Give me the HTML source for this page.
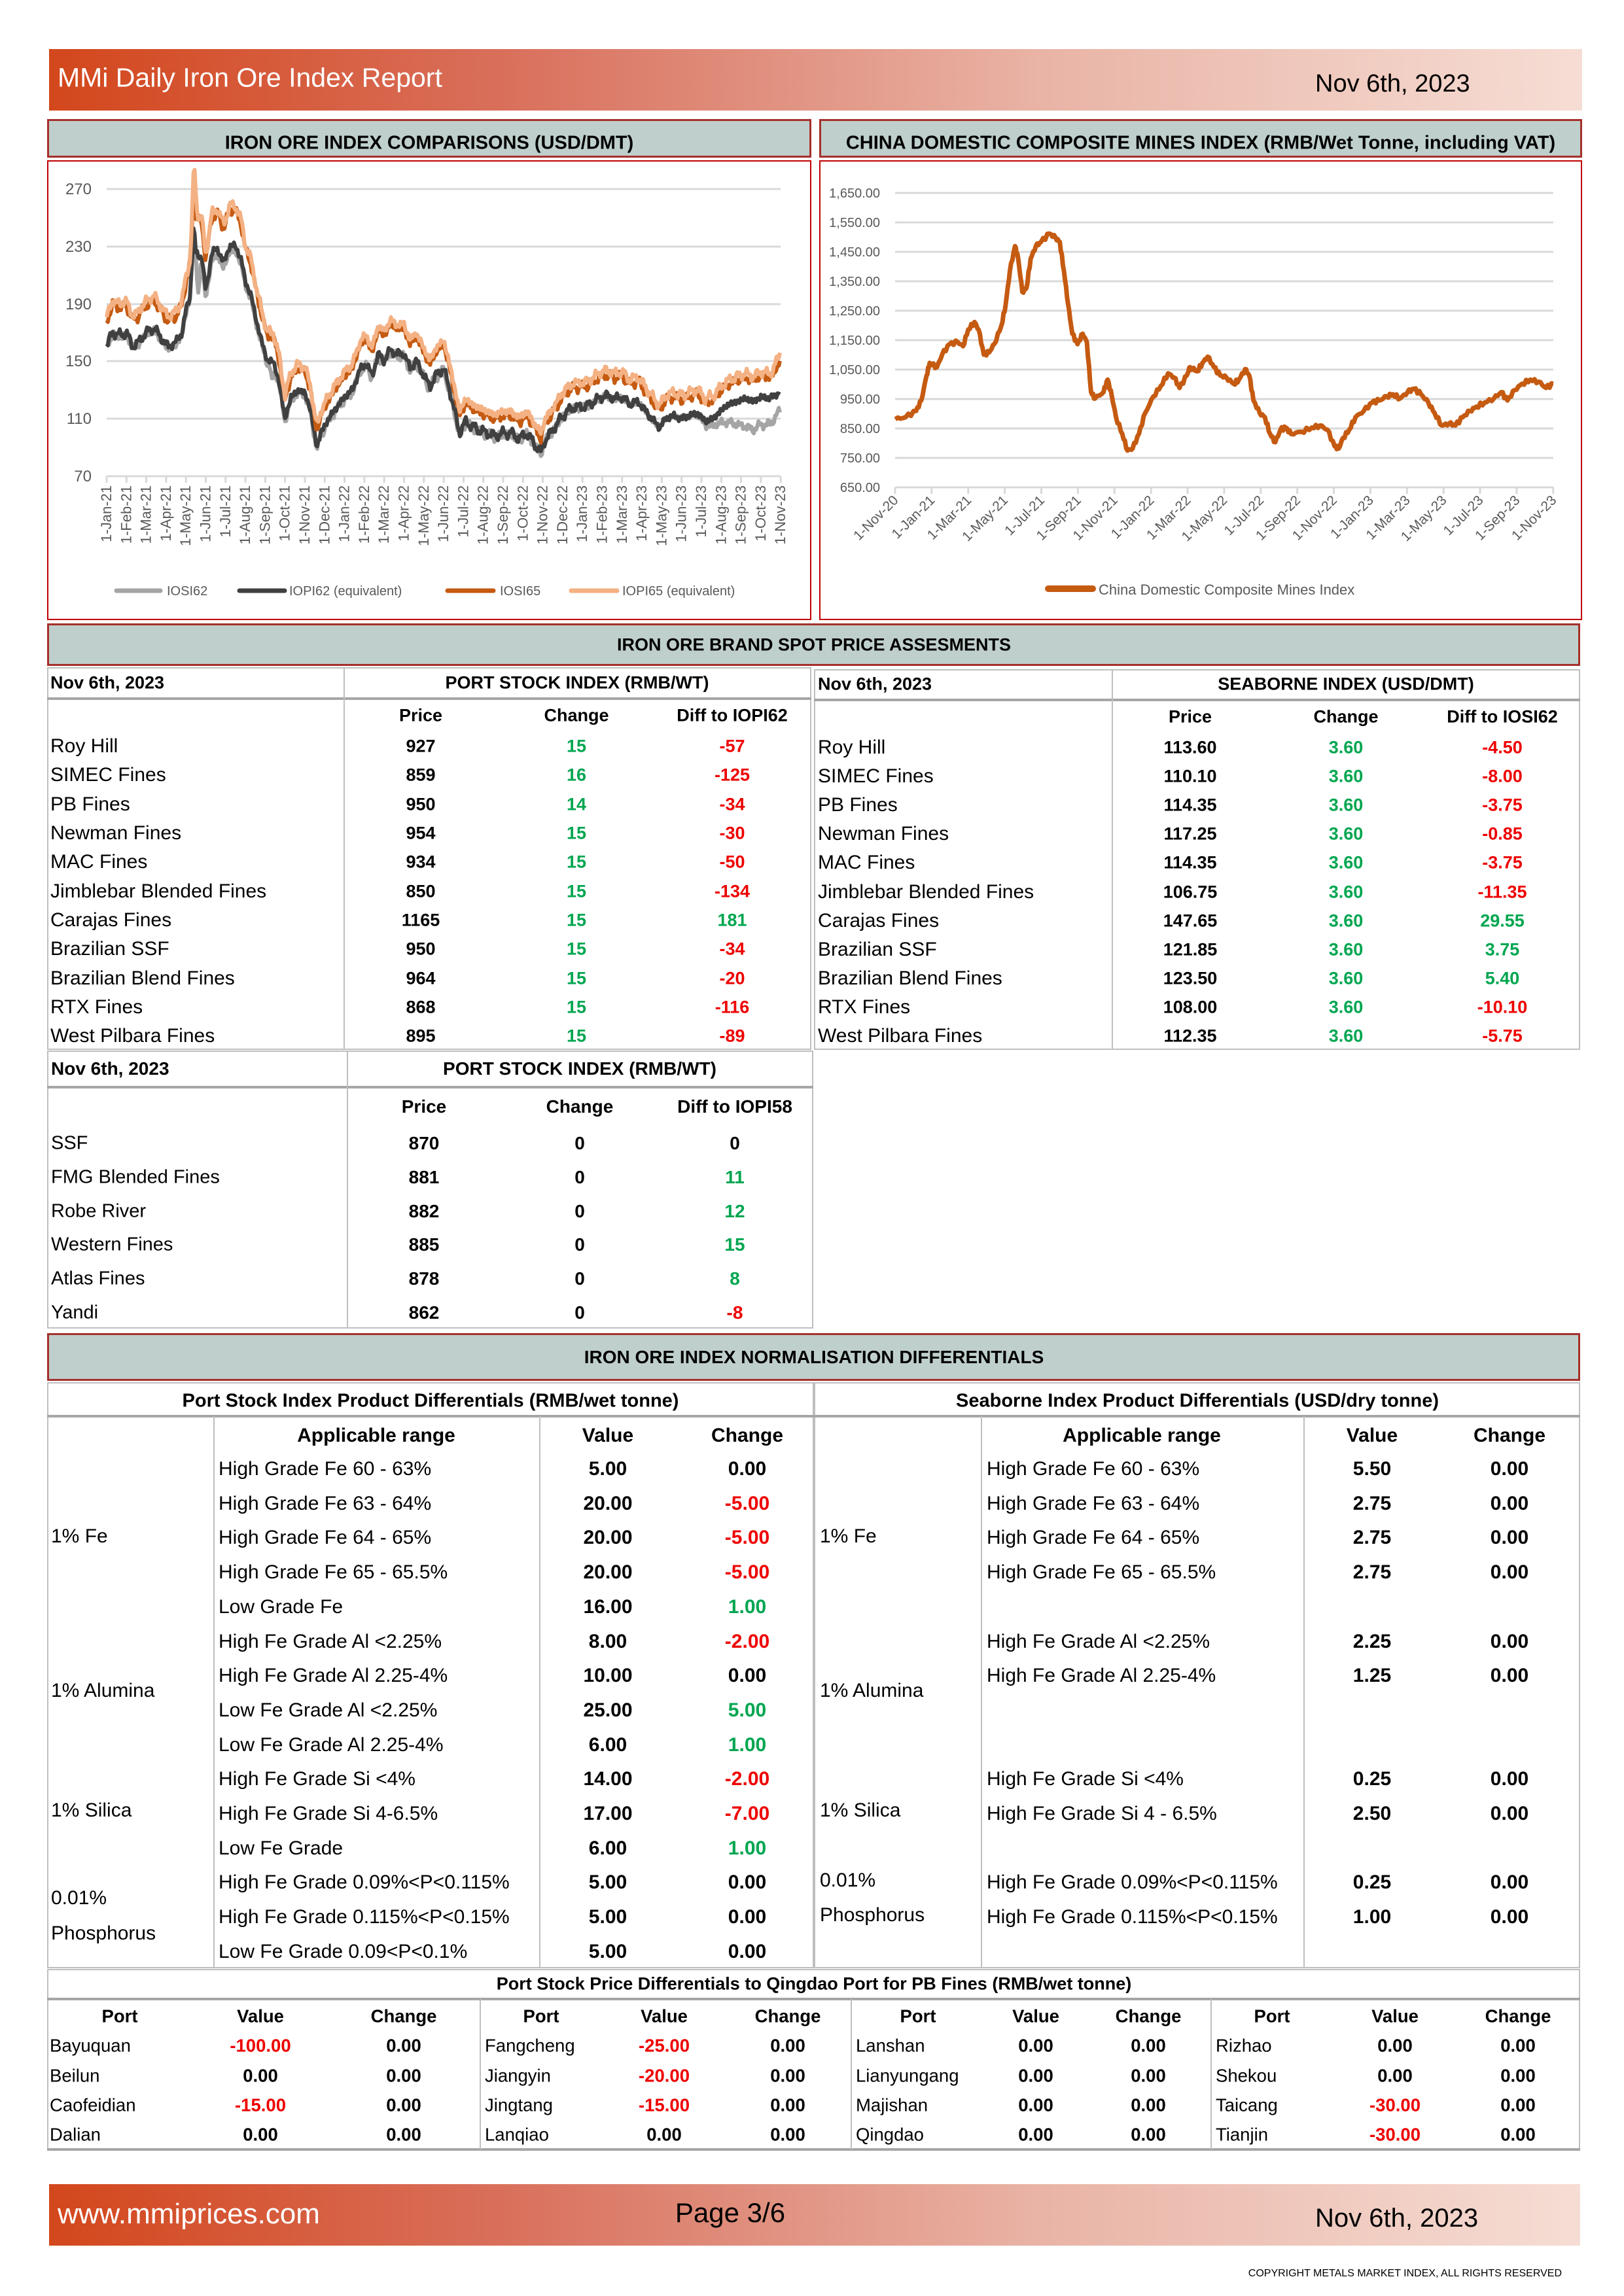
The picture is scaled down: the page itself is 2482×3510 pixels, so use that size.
<!DOCTYPE html>
<html><head><meta charset="utf-8">
<style>
*{margin:0;padding:0;box-sizing:border-box}
body{width:2482px;height:3510px;position:relative;background:#fff;font-family:"Liberation Sans",Arial,sans-serif;color:#000;overflow:hidden}
.a{position:absolute}
.t{position:absolute;white-space:nowrap;transform:translateY(-50%);line-height:1}
.c{position:absolute;white-space:nowrap;transform:translate(-50%,-50%);line-height:1}
.b{font-weight:bold}
.g{color:#00a650}.r{color:#ee0000}
.bx{position:absolute;border:2px solid #bfbfbf}
.hl{position:absolute;height:4px;background:#a6a6a6}
.vl{position:absolute;width:2px;background:#bfbfbf}
.hd{position:absolute;background:#bfcfcc;border:3px solid #a5302b}
.tb{font-size:27px}
.tl{font-size:30px}
.nm{font-size:30px}
.qd{font-size:27.5px}
</style></head><body>

<div class="a" style="left:75px;top:75px;width:2343px;height:94px;background:linear-gradient(90deg,#d3471c 0%,#d9705c 30%,#e9b4a6 65%,#f6ddd4 100%)"></div>
<div class="t" style="left:88px;top:119px;font-size:41px;color:#fff">MMi Daily Iron Ore Index Report</div>
<div class="t" style="left:2010px;top:128px;font-size:38px">Nov 6th, 2023</div>

<div class="hd" style="left:72px;top:182px;width:1168px;height:59px"></div>
<div class="c b" style="left:656px;top:219px;font-size:29px">IRON ORE INDEX COMPARISONS (USD/DMT)</div>
<div class="hd" style="left:1252px;top:182px;width:1166px;height:59px"></div>
<div class="c b" style="left:1835px;top:219px;font-size:29px">CHINA DOMESTIC COMPOSITE MINES INDEX (RMB/Wet Tonne, including VAT)</div>
<div class="a" style="left:72px;top:245px;width:1168px;height:703px;border:2px solid #c00000"></div>
<div class="a" style="left:1252px;top:245px;width:1166px;height:703px;border:2px solid #c00000"></div>

<svg class="a" style="left:0;top:0" width="2482" height="960" id="charts" font-family="Liberation Sans, Arial, sans-serif">
<g stroke="#d9d9d9" stroke-width="3">
<line x1="163" y1="289" x2="1193" y2="289"/><line x1="163" y1="377" x2="1193" y2="377"/>
<line x1="163" y1="465" x2="1193" y2="465"/><line x1="163" y1="552" x2="1193" y2="552"/>
<line x1="163" y1="640" x2="1193" y2="640"/><line x1="163" y1="728" x2="1193" y2="728"/>
<line x1="1368" y1="295" x2="2374" y2="295"/><line x1="1368" y1="340" x2="2374" y2="340"/>
<line x1="1368" y1="385" x2="2374" y2="385"/><line x1="1368" y1="430" x2="2374" y2="430"/>
<line x1="1368" y1="475" x2="2374" y2="475"/><line x1="1368" y1="520" x2="2374" y2="520"/>
<line x1="1368" y1="565" x2="2374" y2="565"/><line x1="1368" y1="610" x2="2374" y2="610"/>
<line x1="1368" y1="655" x2="2374" y2="655"/><line x1="1368" y1="700" x2="2374" y2="700"/>
<line x1="1368" y1="745" x2="2374" y2="745"/>
</g>
<g id="lticks" stroke="#d9d9d9" stroke-width="3"></g>
<g fill="#595959" font-size="24" text-anchor="end">
<text x="140" y="297">270</text><text x="140" y="385">230</text><text x="140" y="473">190</text>
<text x="140" y="560">150</text><text x="140" y="648">110</text><text x="140" y="736">70</text>
</g>
<g fill="#595959" font-size="20" text-anchor="end">
<text x="1345" y="302">1,650.00</text><text x="1345" y="347">1,550.00</text><text x="1345" y="392">1,450.00</text>
<text x="1345" y="437">1,350.00</text><text x="1345" y="482">1,250.00</text><text x="1345" y="527">1,150.00</text>
<text x="1345" y="572">1,050.00</text><text x="1345" y="617">950.00</text><text x="1345" y="662">850.00</text>
<text x="1345" y="707">750.00</text><text x="1345" y="752">650.00</text>
</g>
<g id="lx" fill="#595959" font-size="22" text-anchor="end"></g>
<g id="rx" fill="#595959" font-size="21" text-anchor="end"></g>
<g id="series" fill="none" stroke-linejoin="round"></g>
<g stroke-width="7" stroke-linecap="round">
<line x1="178" y1="903" x2="245" y2="903" stroke="#a5a5a5"/>
<line x1="366" y1="903" x2="435" y2="903" stroke="#404040"/>
<line x1="684" y1="903" x2="754" y2="903" stroke="#c55a11"/>
<line x1="873" y1="903" x2="943" y2="903" stroke="#f4b183"/>
<line x1="1602" y1="900" x2="1670" y2="900" stroke="#c55a11" stroke-width="10"/>
</g>
<g fill="#595959" font-size="20">
<text x="255" y="910">IOSI62</text><text x="442" y="910">IOPI62 (equivalent)</text>
<text x="764" y="910">IOSI65</text><text x="951" y="910">IOPI65 (equivalent)</text>
<text x="1679" y="909" font-size="22">China Domestic Composite Mines Index</text>
</g>
</svg>

<div class="hd" style="left:72px;top:953px;width:2343px;height:65px"></div>
<div class="c b" style="left:1244px;top:986px;font-size:27px">IRON ORE BRAND SPOT PRICE ASSESMENTS</div>

<div class="bx" style="left:72px;top:1020px;width:1168px;height:585px"></div>
<div class="hl" style="left:72px;top:1066px;width:1168px"></div>
<div class="vl" style="left:525px;top:1020px;height:585px"></div>
<div class="t b tb" style="left:77px;top:1044px">Nov 6th, 2023</div>
<div class="c b" style="left:882px;top:1044px;font-size:27px">PORT STOCK INDEX (RMB/WT)</div>
<div class="c b tb" style="left:643px;top:1094px">Price</div>
<div class="c b tb" style="left:881px;top:1094px">Change</div>
<div class="c b tb" style="left:1119px;top:1094px">Diff to IOPI62</div>
<div class="tl">
<div class="t" style="left:77px;top:1141px">Roy Hill</div>
<div class="t" style="left:77px;top:1185px">SIMEC Fines</div>
<div class="t" style="left:77px;top:1230px">PB Fines</div>
<div class="t" style="left:77px;top:1274px">Newman Fines</div>
<div class="t" style="left:77px;top:1318px">MAC Fines</div>
<div class="t" style="left:77px;top:1363px">Jimblebar Blended Fines</div>
<div class="t" style="left:77px;top:1407px">Carajas Fines</div>
<div class="t" style="left:77px;top:1451px">Brazilian SSF</div>
<div class="t" style="left:77px;top:1496px">Brazilian Blend Fines</div>
<div class="t" style="left:77px;top:1540px">RTX Fines</div>
<div class="t" style="left:77px;top:1584px">West Pilbara Fines</div>
</div>
<div class="tb b">
<div class="c" style="left:643px;top:1141px">927</div><div class="c g" style="left:881px;top:1141px">15</div><div class="c r" style="left:1119px;top:1141px">-57</div>
<div class="c" style="left:643px;top:1185px">859</div><div class="c g" style="left:881px;top:1185px">16</div><div class="c r" style="left:1119px;top:1185px">-125</div>
<div class="c" style="left:643px;top:1230px">950</div><div class="c g" style="left:881px;top:1230px">14</div><div class="c r" style="left:1119px;top:1230px">-34</div>
<div class="c" style="left:643px;top:1274px">954</div><div class="c g" style="left:881px;top:1274px">15</div><div class="c r" style="left:1119px;top:1274px">-30</div>
<div class="c" style="left:643px;top:1318px">934</div><div class="c g" style="left:881px;top:1318px">15</div><div class="c r" style="left:1119px;top:1318px">-50</div>
<div class="c" style="left:643px;top:1363px">850</div><div class="c g" style="left:881px;top:1363px">15</div><div class="c r" style="left:1119px;top:1363px">-134</div>
<div class="c" style="left:643px;top:1407px">1165</div><div class="c g" style="left:881px;top:1407px">15</div><div class="c g" style="left:1119px;top:1407px">181</div>
<div class="c" style="left:643px;top:1451px">950</div><div class="c g" style="left:881px;top:1451px">15</div><div class="c r" style="left:1119px;top:1451px">-34</div>
<div class="c" style="left:643px;top:1496px">964</div><div class="c g" style="left:881px;top:1496px">15</div><div class="c r" style="left:1119px;top:1496px">-20</div>
<div class="c" style="left:643px;top:1540px">868</div><div class="c g" style="left:881px;top:1540px">15</div><div class="c r" style="left:1119px;top:1540px">-116</div>
<div class="c" style="left:643px;top:1584px">895</div><div class="c g" style="left:881px;top:1584px">15</div><div class="c r" style="left:1119px;top:1584px">-89</div>
</div>

<div class="bx" style="left:1244px;top:1023px;width:1171px;height:582px"></div>
<div class="hl" style="left:1244px;top:1068px;width:1171px"></div>
<div class="vl" style="left:1699px;top:1023px;height:582px"></div>
<div class="t b tb" style="left:1250px;top:1046px">Nov 6th, 2023</div>
<div class="c b" style="left:2057px;top:1046px;font-size:27px">SEABORNE INDEX (USD/DMT)</div>
<div class="c b tb" style="left:1819px;top:1096px">Price</div>
<div class="c b tb" style="left:2057px;top:1096px">Change</div>
<div class="c b tb" style="left:2296px;top:1096px">Diff to IOSI62</div>
<div class="tl">
<div class="t" style="left:1250px;top:1143px">Roy Hill</div>
<div class="t" style="left:1250px;top:1187px">SIMEC Fines</div>
<div class="t" style="left:1250px;top:1231px">PB Fines</div>
<div class="t" style="left:1250px;top:1275px">Newman Fines</div>
<div class="t" style="left:1250px;top:1319px">MAC Fines</div>
<div class="t" style="left:1250px;top:1364px">Jimblebar Blended Fines</div>
<div class="t" style="left:1250px;top:1408px">Carajas Fines</div>
<div class="t" style="left:1250px;top:1452px">Brazilian SSF</div>
<div class="t" style="left:1250px;top:1496px">Brazilian Blend Fines</div>
<div class="t" style="left:1250px;top:1540px">RTX Fines</div>
<div class="t" style="left:1250px;top:1584px">West Pilbara Fines</div>
</div>
<div class="tb b">
<div class="c" style="left:1819px;top:1143px">113.60</div><div class="c g" style="left:2057px;top:1143px">3.60</div><div class="c r" style="left:2296px;top:1143px">-4.50</div>
<div class="c" style="left:1819px;top:1187px">110.10</div><div class="c g" style="left:2057px;top:1187px">3.60</div><div class="c r" style="left:2296px;top:1187px">-8.00</div>
<div class="c" style="left:1819px;top:1231px">114.35</div><div class="c g" style="left:2057px;top:1231px">3.60</div><div class="c r" style="left:2296px;top:1231px">-3.75</div>
<div class="c" style="left:1819px;top:1275px">117.25</div><div class="c g" style="left:2057px;top:1275px">3.60</div><div class="c r" style="left:2296px;top:1275px">-0.85</div>
<div class="c" style="left:1819px;top:1319px">114.35</div><div class="c g" style="left:2057px;top:1319px">3.60</div><div class="c r" style="left:2296px;top:1319px">-3.75</div>
<div class="c" style="left:1819px;top:1364px">106.75</div><div class="c g" style="left:2057px;top:1364px">3.60</div><div class="c r" style="left:2296px;top:1364px">-11.35</div>
<div class="c" style="left:1819px;top:1408px">147.65</div><div class="c g" style="left:2057px;top:1408px">3.60</div><div class="c g" style="left:2296px;top:1408px">29.55</div>
<div class="c" style="left:1819px;top:1452px">121.85</div><div class="c g" style="left:2057px;top:1452px">3.60</div><div class="c g" style="left:2296px;top:1452px">3.75</div>
<div class="c" style="left:1819px;top:1496px">123.50</div><div class="c g" style="left:2057px;top:1496px">3.60</div><div class="c g" style="left:2296px;top:1496px">5.40</div>
<div class="c" style="left:1819px;top:1540px">108.00</div><div class="c g" style="left:2057px;top:1540px">3.60</div><div class="c r" style="left:2296px;top:1540px">-10.10</div>
<div class="c" style="left:1819px;top:1584px">112.35</div><div class="c g" style="left:2057px;top:1584px">3.60</div><div class="c r" style="left:2296px;top:1584px">-5.75</div>
</div>

<div class="bx" style="left:72px;top:1606px;width:1171px;height:425px"></div>
<div class="hl" style="left:72px;top:1660px;width:1171px"></div>
<div class="vl" style="left:530px;top:1606px;height:425px"></div>
<div class="t b" style="left:78px;top:1634px;font-size:28px">Nov 6th, 2023</div>
<div class="c b" style="left:886px;top:1634px;font-size:28px">PORT STOCK INDEX (RMB/WT)</div>
<div class="c b" style="left:648px;top:1692px;font-size:28px">Price</div>
<div class="c b" style="left:886px;top:1692px;font-size:28px">Change</div>
<div class="c b" style="left:1123px;top:1692px;font-size:28px">Diff to IOPI58</div>
<div style="font-size:29px">
<div class="t" style="left:78px;top:1748px">SSF</div>
<div class="t" style="left:78px;top:1800px">FMG Blended Fines</div>
<div class="t" style="left:78px;top:1852px">Robe River</div>
<div class="t" style="left:78px;top:1903px">Western Fines</div>
<div class="t" style="left:78px;top:1955px">Atlas Fines</div>
<div class="t" style="left:78px;top:2007px">Yandi</div>
</div>
<div class="b" style="font-size:28px">
<div class="c" style="left:648px;top:1748px">870</div><div class="c" style="left:886px;top:1748px">0</div><div class="c" style="left:1123px;top:1748px">0</div>
<div class="c" style="left:648px;top:1800px">881</div><div class="c" style="left:886px;top:1800px">0</div><div class="c g" style="left:1123px;top:1800px">11</div>
<div class="c" style="left:648px;top:1852px">882</div><div class="c" style="left:886px;top:1852px">0</div><div class="c g" style="left:1123px;top:1852px">12</div>
<div class="c" style="left:648px;top:1903px">885</div><div class="c" style="left:886px;top:1903px">0</div><div class="c g" style="left:1123px;top:1903px">15</div>
<div class="c" style="left:648px;top:1955px">878</div><div class="c" style="left:886px;top:1955px">0</div><div class="c g" style="left:1123px;top:1955px">8</div>
<div class="c" style="left:648px;top:2007px">862</div><div class="c" style="left:886px;top:2007px">0</div><div class="c r" style="left:1123px;top:2007px">-8</div>
</div>

<div class="hd" style="left:72px;top:2038px;width:2343px;height:73px"></div>
<div class="c b" style="left:1244px;top:2075px;font-size:28px">IRON ORE INDEX NORMALISATION DIFFERENTIALS</div>
<div class="bx" style="left:72px;top:2113px;width:1172px;height:896px"></div>
<div class="bx" style="left:1244px;top:2113px;width:1171px;height:896px"></div>
<div class="hl" style="left:72px;top:2163px;width:2343px"></div>
<div class="vl" style="left:326px;top:2165px;height:843px"></div>
<div class="vl" style="left:824px;top:2165px;height:843px"></div>
<div class="vl" style="left:1499px;top:2165px;height:843px"></div>
<div class="vl" style="left:1992px;top:2165px;height:843px"></div>
<div class="c b" style="left:658px;top:2142px;font-size:29px">Port Stock Index Product Differentials (RMB/wet tonne)</div>
<div class="c b" style="left:1830px;top:2142px;font-size:29px">Seaborne Index Product Differentials (USD/dry tonne)</div>
<div class="nm b">
<div class="c" style="left:575px;top:2195px">Applicable range</div>
<div class="c" style="left:929px;top:2195px">Value</div>
<div class="c" style="left:1142px;top:2195px">Change</div>
<div class="c" style="left:1745px;top:2195px">Applicable range</div>
<div class="c" style="left:2097px;top:2195px">Value</div>
<div class="c" style="left:2307px;top:2195px">Change</div>
</div>
<div class="nm">
<div class="t" style="left:78px;top:2349px">1% Fe</div>
<div class="t" style="left:78px;top:2585px">1% Alumina</div>
<div class="t" style="left:78px;top:2768px">1% Silica</div>
<div class="t" style="left:78px;top:2902px">0.01%</div>
<div class="t" style="left:78px;top:2956px">Phosphorus</div>
<div class="t" style="left:1253px;top:2349px">1% Fe</div>
<div class="t" style="left:1253px;top:2585px">1% Alumina</div>
<div class="t" style="left:1253px;top:2768px">1% Silica</div>
<div class="t" style="left:1253px;top:2875px">0.01%</div>
<div class="t" style="left:1253px;top:2928px">Phosphorus</div>

<div class="t" style="left:334px;top:2246px">High Grade Fe 60 - 63%</div>
<div class="t" style="left:334px;top:2299px">High Grade Fe 63 - 64%</div>
<div class="t" style="left:334px;top:2351px">High Grade Fe 64 - 65%</div>
<div class="t" style="left:334px;top:2404px">High Grade Fe 65 - 65.5%</div>
<div class="t" style="left:334px;top:2457px">Low Grade Fe</div>
<div class="t" style="left:334px;top:2510px">High Fe Grade Al &lt;2.25%</div>
<div class="t" style="left:334px;top:2562px">High Fe Grade Al 2.25-4%</div>
<div class="t" style="left:334px;top:2615px">Low Fe Grade Al &lt;2.25%</div>
<div class="t" style="left:334px;top:2668px">Low Fe Grade Al 2.25-4%</div>
<div class="t" style="left:334px;top:2720px">High Fe Grade Si &lt;4%</div>
<div class="t" style="left:334px;top:2773px">High Fe Grade Si 4-6.5%</div>
<div class="t" style="left:334px;top:2826px">Low Fe Grade</div>
<div class="t" style="left:334px;top:2878px">High Fe Grade 0.09%&lt;P&lt;0.115%</div>
<div class="t" style="left:334px;top:2931px">High Fe Grade 0.115%&lt;P&lt;0.15%</div>
<div class="t" style="left:334px;top:2984px">Low Fe Grade 0.09&lt;P&lt;0.1%</div>

<div class="t" style="left:1508px;top:2246px">High Grade Fe 60 - 63%</div>
<div class="t" style="left:1508px;top:2299px">High Grade Fe 63 - 64%</div>
<div class="t" style="left:1508px;top:2351px">High Grade Fe 64 - 65%</div>
<div class="t" style="left:1508px;top:2404px">High Grade Fe 65 - 65.5%</div>
<div class="t" style="left:1508px;top:2510px">High Fe Grade Al &lt;2.25%</div>
<div class="t" style="left:1508px;top:2562px">High Fe Grade Al 2.25-4%</div>
<div class="t" style="left:1508px;top:2720px">High Fe Grade Si &lt;4%</div>
<div class="t" style="left:1508px;top:2773px">High Fe Grade Si 4 - 6.5%</div>
<div class="t" style="left:1508px;top:2878px">High Fe Grade 0.09%&lt;P&lt;0.115%</div>
<div class="t" style="left:1508px;top:2931px">High Fe Grade 0.115%&lt;P&lt;0.15%</div>
</div>
<div class="nm b">
<div class="c" style="left:929px;top:2246px">5.00</div><div class="c" style="left:1142px;top:2246px">0.00</div>
<div class="c" style="left:929px;top:2299px">20.00</div><div class="c r" style="left:1142px;top:2299px">-5.00</div>
<div class="c" style="left:929px;top:2351px">20.00</div><div class="c r" style="left:1142px;top:2351px">-5.00</div>
<div class="c" style="left:929px;top:2404px">20.00</div><div class="c r" style="left:1142px;top:2404px">-5.00</div>
<div class="c" style="left:929px;top:2457px">16.00</div><div class="c g" style="left:1142px;top:2457px">1.00</div>
<div class="c" style="left:929px;top:2510px">8.00</div><div class="c r" style="left:1142px;top:2510px">-2.00</div>
<div class="c" style="left:929px;top:2562px">10.00</div><div class="c" style="left:1142px;top:2562px">0.00</div>
<div class="c" style="left:929px;top:2615px">25.00</div><div class="c g" style="left:1142px;top:2615px">5.00</div>
<div class="c" style="left:929px;top:2668px">6.00</div><div class="c g" style="left:1142px;top:2668px">1.00</div>
<div class="c" style="left:929px;top:2720px">14.00</div><div class="c r" style="left:1142px;top:2720px">-2.00</div>
<div class="c" style="left:929px;top:2773px">17.00</div><div class="c r" style="left:1142px;top:2773px">-7.00</div>
<div class="c" style="left:929px;top:2826px">6.00</div><div class="c g" style="left:1142px;top:2826px">1.00</div>
<div class="c" style="left:929px;top:2878px">5.00</div><div class="c" style="left:1142px;top:2878px">0.00</div>
<div class="c" style="left:929px;top:2931px">5.00</div><div class="c" style="left:1142px;top:2931px">0.00</div>
<div class="c" style="left:929px;top:2984px">5.00</div><div class="c" style="left:1142px;top:2984px">0.00</div>

<div class="c" style="left:2097px;top:2246px">5.50</div><div class="c" style="left:2307px;top:2246px">0.00</div>
<div class="c" style="left:2097px;top:2299px">2.75</div><div class="c" style="left:2307px;top:2299px">0.00</div>
<div class="c" style="left:2097px;top:2351px">2.75</div><div class="c" style="left:2307px;top:2351px">0.00</div>
<div class="c" style="left:2097px;top:2404px">2.75</div><div class="c" style="left:2307px;top:2404px">0.00</div>
<div class="c" style="left:2097px;top:2510px">2.25</div><div class="c" style="left:2307px;top:2510px">0.00</div>
<div class="c" style="left:2097px;top:2562px">1.25</div><div class="c" style="left:2307px;top:2562px">0.00</div>
<div class="c" style="left:2097px;top:2720px">0.25</div><div class="c" style="left:2307px;top:2720px">0.00</div>
<div class="c" style="left:2097px;top:2773px">2.50</div><div class="c" style="left:2307px;top:2773px">0.00</div>
<div class="c" style="left:2097px;top:2878px">0.25</div><div class="c" style="left:2307px;top:2878px">0.00</div>
<div class="c" style="left:2097px;top:2931px">1.00</div><div class="c" style="left:2307px;top:2931px">0.00</div>
</div>

<div class="bx" style="left:72px;top:3010px;width:2343px;height:277px"></div>
<div class="hl" style="left:72px;top:3054px;width:2343px"></div>
<div class="hl" style="left:72px;top:3284px;width:2343px"></div>
<div class="vl" style="left:733px;top:3056px;height:230px"></div>
<div class="vl" style="left:1300px;top:3056px;height:230px"></div>
<div class="vl" style="left:1850px;top:3056px;height:230px"></div>
<div class="c b" style="left:1244px;top:3033px;font-size:27px">Port Stock Price Differentials to Qingdao Port for PB Fines (RMB/wet tonne)</div>
<div class="qd b">
<div class="c" style="left:183px;top:3082px">Port</div><div class="c" style="left:398px;top:3082px">Value</div><div class="c" style="left:617px;top:3082px">Change</div>
<div class="c" style="left:827px;top:3082px">Port</div><div class="c" style="left:1015px;top:3082px">Value</div><div class="c" style="left:1204px;top:3082px">Change</div>
<div class="c" style="left:1403px;top:3082px">Port</div><div class="c" style="left:1583px;top:3082px">Value</div><div class="c" style="left:1755px;top:3082px">Change</div>
<div class="c" style="left:1944px;top:3082px">Port</div><div class="c" style="left:2132px;top:3082px">Value</div><div class="c" style="left:2320px;top:3082px">Change</div>
</div>
<div class="qd">
<div class="t" style="left:76px;top:3127px">Bayuquan</div><div class="t" style="left:741px;top:3127px">Fangcheng</div><div class="t" style="left:1308px;top:3127px">Lanshan</div><div class="t" style="left:1858px;top:3127px">Rizhao</div>
<div class="t" style="left:76px;top:3173px">Beilun</div><div class="t" style="left:741px;top:3173px">Jiangyin</div><div class="t" style="left:1308px;top:3173px">Lianyungang</div><div class="t" style="left:1858px;top:3173px">Shekou</div>
<div class="t" style="left:76px;top:3218px">Caofeidian</div><div class="t" style="left:741px;top:3218px">Jingtang</div><div class="t" style="left:1308px;top:3218px">Majishan</div><div class="t" style="left:1858px;top:3218px">Taicang</div>
<div class="t" style="left:76px;top:3263px">Dalian</div><div class="t" style="left:741px;top:3263px">Lanqiao</div><div class="t" style="left:1308px;top:3263px">Qingdao</div><div class="t" style="left:1858px;top:3263px">Tianjin</div>
</div>
<div class="qd b">
<div class="c r" style="left:398px;top:3127px">-100.00</div><div class="c" style="left:617px;top:3127px">0.00</div><div class="c r" style="left:1015px;top:3127px">-25.00</div><div class="c" style="left:1204px;top:3127px">0.00</div><div class="c" style="left:1583px;top:3127px">0.00</div><div class="c" style="left:1755px;top:3127px">0.00</div><div class="c" style="left:2132px;top:3127px">0.00</div><div class="c" style="left:2320px;top:3127px">0.00</div>
<div class="c" style="left:398px;top:3173px">0.00</div><div class="c" style="left:617px;top:3173px">0.00</div><div class="c r" style="left:1015px;top:3173px">-20.00</div><div class="c" style="left:1204px;top:3173px">0.00</div><div class="c" style="left:1583px;top:3173px">0.00</div><div class="c" style="left:1755px;top:3173px">0.00</div><div class="c" style="left:2132px;top:3173px">0.00</div><div class="c" style="left:2320px;top:3173px">0.00</div>
<div class="c r" style="left:398px;top:3218px">-15.00</div><div class="c" style="left:617px;top:3218px">0.00</div><div class="c r" style="left:1015px;top:3218px">-15.00</div><div class="c" style="left:1204px;top:3218px">0.00</div><div class="c" style="left:1583px;top:3218px">0.00</div><div class="c" style="left:1755px;top:3218px">0.00</div><div class="c r" style="left:2132px;top:3218px">-30.00</div><div class="c" style="left:2320px;top:3218px">0.00</div>
<div class="c" style="left:398px;top:3263px">0.00</div><div class="c" style="left:617px;top:3263px">0.00</div><div class="c" style="left:1015px;top:3263px">0.00</div><div class="c" style="left:1204px;top:3263px">0.00</div><div class="c" style="left:1583px;top:3263px">0.00</div><div class="c" style="left:1755px;top:3263px">0.00</div><div class="c r" style="left:2132px;top:3263px">-30.00</div><div class="c" style="left:2320px;top:3263px">0.00</div>
</div>

<div class="a" style="left:75px;top:3339px;width:2340px;height:94px;background:linear-gradient(90deg,#d3471c 0%,#d9705c 30%,#e9b4a6 65%,#f6ddd4 100%)"></div>
<div class="t" style="left:88px;top:3385px;font-size:44px;color:#fff">www.mmiprices.com</div>
<div class="c" style="left:1116px;top:3383px;font-size:42px">Page 3/6</div>
<div class="t" style="left:2010px;top:3391px;font-size:40px">Nov 6th, 2023</div>
<div class="t" style="right:95px;top:3476px;font-size:16px">COPYRIGHT METALS MARKET INDEX, ALL RIGHTS RESERVED</div>

<script>
(function(){
var NS="http://www.w3.org/2000/svg";
function el(p,n,a,txt){var e=document.createElementNS(NS,n);for(var k in a)e.setAttribute(k,a[k]);if(txt)e.textContent=txt;p.appendChild(e);return e;}
var mon=["Jan","Feb","Mar","Apr","May","Jun","Jul","Aug","Sep","Oct","Nov","Dec"];
var lx=document.getElementById("lx"),lt=document.getElementById("lticks");
for(var m=0;m<=34;m++){var x=163+m*30.3;var lab="1-"+mon[m%12]+"-"+(21+Math.floor(m/12));
 el(lt,"line",{x1:x,y1:728,x2:x,y2:738});
 el(lx,"text",{x:0,y:0,transform:"translate("+(x+7)+",742) rotate(-90)"},lab);}
var rx=document.getElementById("rx");
for(var k=0;k<=18;k++){var mm=10+2*k;var x=1368+2*k*27.94;var lab="1-"+mon[mm%12]+"-"+(20+Math.floor(mm/12));
 el(lt,"line",{x1:x,y1:745,x2:x,y2:755});
 el(rx,"text",{x:0,y:0,transform:"translate("+(x+6)+",766) rotate(-45)"},lab);}
function interp(K,m){if(m<=K[0][0])return K[0][1];for(var i=1;i<K.length;i++){if(m<=K[i][0]){var a=K[i-1],b=K[i];return a[1]+(b[1]-a[1])*(m-a[0])/(b[0]-a[0]);}}return K[K.length-1][1];}
function jit(m,s){return Math.sin(m*37.1+s)*1.6+Math.sin(m*91.7+s*2)*1.4+Math.sin(m*13.3+s*3)*1.2;}
var P=[[0,160],[0.3,170],[0.7,168],[1,170],[1.3,160],[1.6,163],[2,170],[2.4,173],[2.8,165],[3.1,160],[3.5,163],[3.8,170],[4.0,185],[4.2,195],[4.4,245],[4.5,225],[4.8,222],[5.0,198],[5.3,225],[5.6,228],[5.9,218],[6.2,230],[6.5,230],[6.8,220],[7.0,205],[7.3,195],[7.6,175],[7.9,160],[8.1,150],[8.4,150],[8.7,135],[9.0,110],[9.3,125],[9.7,130],[10.0,128],[10.3,115],[10.6,90],[10.8,100],[11.2,110],[11.6,118],[12.0,125],[12.4,130],[12.8,145],[13.1,148],[13.4,140],[13.7,155],[14.0,150],[14.3,158],[14.6,155],[15.0,155],[15.3,145],[15.6,150],[16.0,140],[16.3,132],[16.6,140],[17.0,145],[17.3,130],[17.6,112],[17.8,100],[18.1,108],[18.4,105],[18.8,102],[19.2,100],[19.6,98],[20.0,100],[20.4,100],[20.8,96],[21.2,100],[21.6,92],[21.9,86],[22.1,95],[22.4,100],[22.8,108],[23.2,115],[23.6,118],[24.0,118],[24.4,120],[24.8,124],[25.2,126],[25.6,124],[26.0,125],[26.4,120],[26.8,122],[27.2,115],[27.6,108],[27.9,104],[28.2,110],[28.6,112],[29.0,110],[29.4,112],[29.8,114],[30.2,108],[30.6,110],[31.0,116],[31.4,120],[31.8,122],[32.2,124],[32.6,122],[33.0,125],[33.4,124],[33.8,127],[34,128]];
var D62=[[0,-1],[4.5,-2],[4.6,-30],[4.75,-5],[8.2,-2],[8.35,-15],[8.5,-2],[29.5,0],[30.5,-4],[32,-18],[32.5,-20],[33.5,-18],[34,-12]];
var D65=[[0,0],[4.3,0],[4.45,12],[4.6,0],[33.6,0],[34,8]];
var S={s62:"",p62:"",s65:"",p65:""};
function Y(v){return (728-(v-70)*2.2).toFixed(1);}
for(var m=0;m<=34.001;m+=0.06){var base=interp(P,m);
 var v1=base+interp(D62,m)+jit(m,1),v2=base+jit(m,2),v3=base*1.1+2+jit(m,3),v4=base*1.1+5+jit(m,4)+interp(D65,m)*1.5;
 if(m>33.6)v3+=interp(D65,m);
 var x=(163+m*30.3).toFixed(1);
 S.s62+=x+","+Y(v1)+" ";S.p62+=x+","+Y(v2)+" ";S.s65+=x+","+Y(v3)+" ";S.p65+=x+","+Y(v4)+" ";}
var g=document.getElementById("series");
el(g,"polyline",{points:S.s62,stroke:"#a5a5a5","stroke-width":6});
el(g,"polyline",{points:S.p62,stroke:"#404040","stroke-width":6});
el(g,"polyline",{points:S.s65,stroke:"#c55a11","stroke-width":6});
el(g,"polyline",{points:S.p65,stroke:"#f4b183","stroke-width":6});
var R=[[860,1005],[870,1000],[880,985],[885,960],[890,900],[893,870],[900,880],[905,850],[912,825],[920,820],[925,830],[930,790],[936,772],[940,790],[945,850],[950,845],[955,825],[962,780],[966,730],[970,650],[975,590],[978,620],[982,700],[986,690],[990,620],[995,590],[1000,580],[1008,560],[1014,570],[1018,580],[1022,650],[1026,730],[1030,800],[1035,825],[1040,800],[1044,820],[1048,940],[1052,955],[1060,940],[1064,910],[1068,950],[1072,1000],[1078,1040],[1083,1080],[1088,1075],[1094,1040],[1100,990],[1108,950],[1115,925],[1122,895],[1128,905],[1133,930],[1140,900],[1143,880],[1150,890],[1155,870],[1160,855],[1166,880],[1172,900],[1178,905],[1185,920],[1190,910],[1196,885],[1200,900],[1204,960],[1210,990],[1215,1000],[1220,1040],[1225,1060],[1230,1030],[1235,1025],[1240,1040],[1250,1035],[1260,1025],[1268,1020],[1275,1030],[1282,1070],[1286,1075],[1290,1050],[1296,1030],[1302,1000],[1310,985],[1318,965],[1325,960],[1332,950],[1338,945],[1345,955],[1352,940],[1358,932],[1365,945],[1372,965],[1378,990],[1385,1020],[1392,1015],[1398,1020],[1405,1000],[1412,985],[1418,975],[1426,965],[1435,955],[1442,940],[1448,960],[1455,935],[1462,920],[1470,910],[1478,915],[1485,930],[1492,920]];
var pr="";for(var i=0;i<R.length;i++){var x0=R[i][0]/0.6285,y0=R[i][1]/1.568;
 if(i>0){var xa=R[i-1][0]/0.6285,ya=R[i-1][1]/1.568;for(var t=0.25;t<1;t+=0.25){pr+=(xa+(x0-xa)*t).toFixed(1)+","+(ya+(y0-ya)*t+Math.sin(i*7.3+t*11)*3).toFixed(1)+" ";}}
 pr+=x0.toFixed(1)+","+y0.toFixed(1)+" ";}
el(g,"polyline",{points:pr,stroke:"#c55a11","stroke-width":7});
})();
</script>
</body></html>
